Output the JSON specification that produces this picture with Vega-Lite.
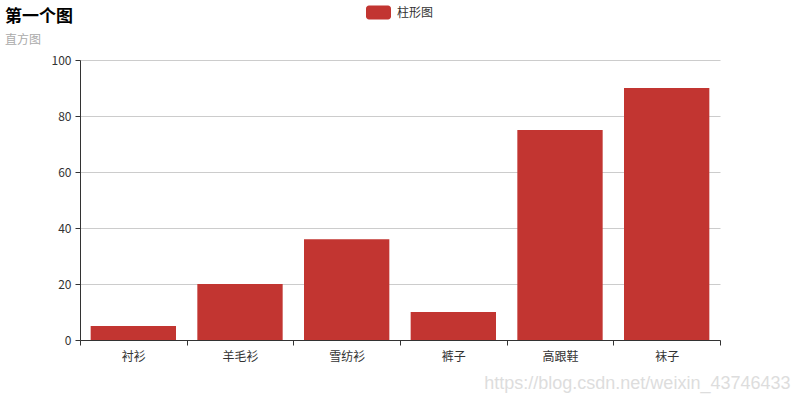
{
  "$schema": "https://vega.github.io/schema/vega-lite/v6.json",
  "width": 640,
  "height": 280,
  "autosize": {"type": "none"},
  "padding": {"left": 80, "top": 60, "right": 80, "bottom": 60},
  "background": "#ffffff",
  "title": {
    "text": "第一个图",
    "subtitle": "直方图",
    "anchor": "start",
    "frame": "group",
    "orient": "top",
    "offset": 13,
    "dx": -75,
    "dy": 60,
    "font": "Noto Sans CJK SC",
    "fontSize": 17,
    "fontWeight": "bold",
    "color": "#000000",
    "subtitleFont": "Noto Sans CJK SC",
    "subtitleFontSize": 12,
    "subtitleColor": "#aaaaaa",
    "subtitlePadding": 9
  },
  "data": {
    "values": [
      {"name": "衬衫", "value": 5, "series": "柱形图"},
      {"name": "羊毛衫", "value": 20, "series": "柱形图"},
      {"name": "雪纺衫", "value": 36, "series": "柱形图"},
      {"name": "裤子", "value": 10, "series": "柱形图"},
      {"name": "高跟鞋", "value": 75, "series": "柱形图"},
      {"name": "袜子", "value": 90, "series": "柱形图"}
    ]
  },
  "mark": {"type": "bar", "width": {"band": 0.8}},
  "encoding": {
    "x": {
      "field": "name",
      "type": "nominal",
      "sort": null,
      "scale": {"paddingInner": 0, "paddingOuter": 0},
      "axis": {
        "title": "https://blog.csdn.net/weixin_43746433",
        "titleFont": "Liberation Sans",
        "titleFontSize": 18,
        "titleFontWeight": "normal",
        "titleColor": "#dddddd",
        "titleAnchor": "end",
        "titleAlign": "right",
        "titleBaseline": "alphabetic",
        "titleX": 710,
        "titleY": 48,
        "labelAngle": 0,
        "labelFont": "Noto Sans CJK SC",
        "labelFontSize": 12,
        "labelColor": "#333333",
        "labelPadding": 6,
        "tickBand": "extent",
        "tickColor": "#333333",
        "tickSize": 5,
        "domainColor": "#333333",
        "grid": false
      }
    },
    "y": {
      "field": "value",
      "type": "quantitative",
      "scale": {"domain": [0, 100], "nice": false},
      "axis": {
        "title": null,
        "values": [0, 20, 40, 60, 80, 100],
        "labelFont": "Noto Sans CJK SC",
        "labelFontSize": 12,
        "labelColor": "#333333",
        "labelPadding": 4,
        "tickColor": "#333333",
        "tickSize": 5,
        "domainColor": "#333333",
        "gridColor": "#cccccc"
      }
    },
    "color": {
      "field": "series",
      "type": "nominal",
      "scale": {"range": ["#c23531"]},
      "legend": {
        "title": null,
        "orient": "none",
        "legendX": 286,
        "legendY": -60,
        "symbolType": "M-0.76,-0.56 H0.76 A0.24,0.24 0 0 1 1,-0.32 V0.32 A0.24,0.24 0 0 1 0.76,0.56 H-0.76 A0.24,0.24 0 0 1 -1,0.32 V-0.32 A0.24,0.24 0 0 1 -0.76,-0.56 Z",
        "symbolSize": 625,
        "symbolStrokeWidth": 0,
        "symbolOpacity": 1,
        "labelFont": "Noto Sans CJK SC",
        "labelFontSize": 12,
        "labelColor": "#333333",
        "labelOffset": 6
      }
    }
  },
  "config": {
    "view": {"stroke": null},
    "axis": {"domainWidth": 1}
  }
}
